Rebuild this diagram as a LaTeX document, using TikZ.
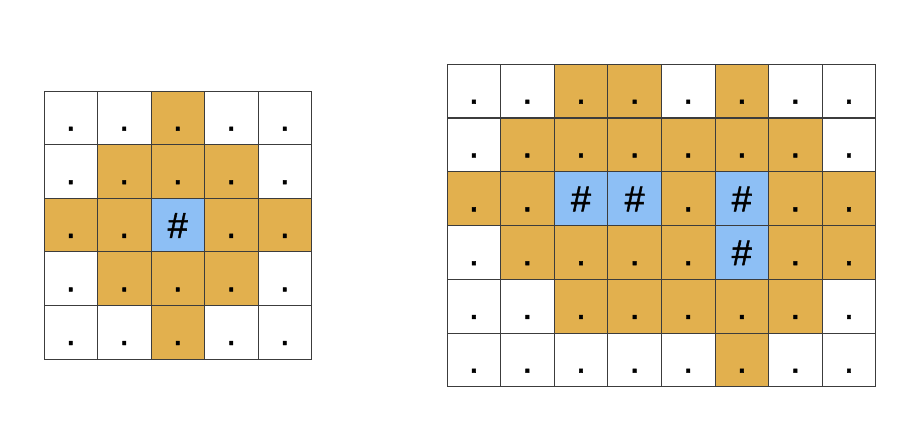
\documentclass[tikz,border=0pt]{standalone}
\usepackage{fontspec}
\setmainfont{Liberation Sans}
\newfontfamily\cellfont[FakeBold=1.3]{Liberation Sans}
\definecolor{cellor}{RGB}{226,176,78}
\definecolor{cellbl}{RGB}{141,191,245}
\definecolor{gridc}{RGB}{60,60,60}
\tikzset{
  cellbox/.style={draw=gridc, line width=0.5pt, minimum width=40.2pt, minimum height=40.2pt,
    inner sep=0pt, text height=19.2pt, text depth=0pt, font=\cellfont\fontsize{27}{27}\selectfont},
  cell-w/.style={cellbox, fill=white},
  cell-o/.style={cellbox, fill=cellor},
  cell-b/.style={cellbox, fill=cellbl}
}
\def\txtw{.}\def\txto{.}\def\txtb{\#}
\begin{document}
\begin{tikzpicture}[x=0.75pt,y=-0.75pt]
\useasboundingbox (0,0) rectangle (919,430);
% left grid
\foreach \r/\row in {0/{w,w,o,w,w},1/{w,o,o,o,w},2/{o,o,b,o,o},3/{w,o,o,o,w},4/{w,w,o,w,w}}{
  \foreach \t [count=\c from 0] in \row {
    \node[cell-\t] (L\r-\c) at ({44+(\c+0.5)*53.5},{91+(\r+0.5)*53.6}) {\csname txt\t\endcsname};
  }
}
% right grid
\foreach \r/\row in {0/{w,w,o,o,w,o,w,w},1/{w,o,o,o,o,o,o,w},2/{o,o,b,b,o,b,o,o},3/{w,o,o,o,o,b,o,o},4/{w,w,o,o,o,o,o,w},5/{w,w,w,w,w,o,w,w}}{
  \foreach \t [count=\c from 0] in \row {
    \node[cell-\t] (R\r-\c) at ({447+(\c+0.5)*53.6},{64+(\r+0.5)*53.8}) {\csname txt\t\endcsname};
  }
}
\end{tikzpicture}
\end{document}
